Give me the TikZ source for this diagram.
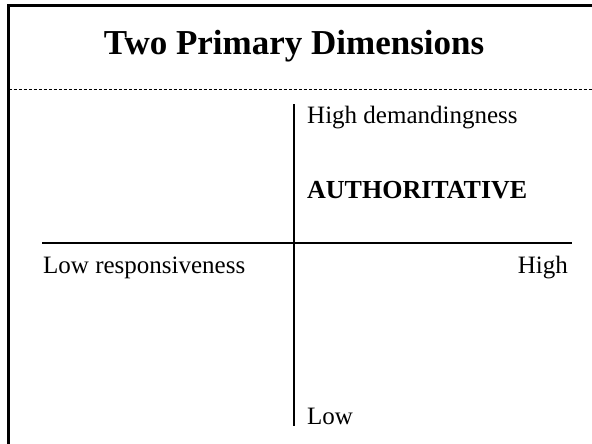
\documentclass[tikz,border=0pt]{standalone}
\usepackage{fontspec}
\setmainfont{Liberation Serif}
\begin{document}
\begin{tikzpicture}[x=1pt,y=-1pt,
  label/.style={inner sep=0pt,font=\fontsize{25}{30}\selectfont},
  titletext/.style={inner sep=0pt,font=\fontsize{35}{42}\selectfont\bfseries},
  axis/.style={line width=2.6pt},
  frameline/.style={line width=2.6pt},
  sepline/.style={line width=0.8pt,dash pattern=on 3pt off 2pt}]
  \useasboundingbox (0,0) rectangle (592,444);
  \clip (0,0) rectangle (592,444);

  % outer frame (left and top sides)
  \coordinate (fbl) at (8.5,450);
  \coordinate (ftl) at (8.5,5.5);
  \coordinate (ftr) at (600,5.5);
  \draw[frameline] (fbl) -- (ftl) -- (ftr);

  % title and separator
  \node[titletext,anchor=base] (title) at (294,55) {Two Primary Dimensions};
  \coordinate (sepL) at (8.5,89.5);
  \coordinate (sepR) at (592,89.5);
  \draw[sepline] (sepL) -- (sepR);

  % axes
  \coordinate (vtop) at (294,104);
  \coordinate (vbot) at (294,426);
  \coordinate (hleft) at (42,243);
  \coordinate (hright) at (572,243);
  \draw[axis] (vtop) -- (vbot);
  \draw[axis] (hleft) -- (hright);

  % labels
  \node[label,anchor=base west] (highd) at (307,123) {High demandingness};
  \node[label,anchor=base west,font=\fontsize{26}{30}\selectfont\bfseries] (auth) at (307,198) {AUTHORITATIVE};
  \node[label,anchor=base west] (lowr) at (43,273) {Low responsiveness};
  \node[label,anchor=base east] (highr) at (568,273) {High};
  \node[label,anchor=base west] (lowd) at (307,424) {Low};
\end{tikzpicture}
\end{document}
